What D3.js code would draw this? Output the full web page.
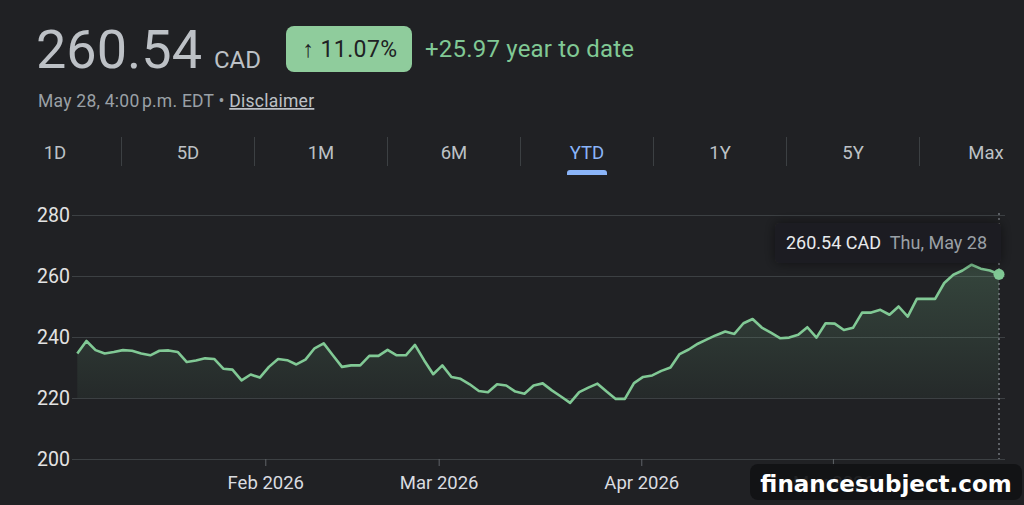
<!DOCTYPE html>
<html>
<head>
<meta charset="utf-8">
<script src="https://cdn.jsdelivr.net/npm/d3@7"></script>
<style>
  html, body { margin: 0; padding: 0; background: #202124; }
  svg { display: block; }
</style>
</head>
<body>
<svg id="chart" width="1024" height="505"></svg>
<script>
// daily closes, Jan 2 - May 28 2026 (TSX trading days)
var closes = [
  234.6, 238.7, 235.7, 234.6, 235.1, 235.7, 235.5, 234.6, 234.0, 235.5, 235.6, 235.1, 231.8, 232.3, 233.0, 232.8, 229.6,
  229.3, 225.8, 227.7, 226.7, 230.2, 232.8, 232.4, 231.0, 232.6, 236.3, 237.9, 234.0, 230.2, 230.7, 230.7, 233.8, 233.8, 235.8,
  234.0, 234.0, 237.4, 232.4, 227.8, 230.7, 226.9, 226.3, 224.5, 222.3, 221.9, 224.5, 224.1, 222.1, 221.4, 224.1, 224.8,
  222.5, 220.5, 218.4, 221.9, 223.4, 224.7, 222.1, 219.7, 219.7, 224.9, 226.9, 227.4, 228.9, 230.0, 234.4, 235.9, 237.8,
  239.2, 240.6, 241.8, 241.0, 244.5, 245.9, 243.1, 241.4, 239.6, 239.8, 240.7, 243.2, 239.8, 244.5, 244.4, 242.3, 243.0,
  248.0, 248.0, 248.9, 247.3, 250.0, 246.7, 252.5, 252.5, 252.5, 257.7, 260.4, 261.8, 263.7, 262.4, 261.8, 260.54
]
var yTicks = [200, 220, 240, 260, 280]
var monthLabels = ["Feb 2026", "Mar 2026", "Apr 2026", "May 2026"]
var monthIndex = [20.6, 39.6, 61.8, 82.8]   // where each month starts, in trading-day index
var tabLabels = ["1D", "5D", "1M", "6M", "YTD", "1Y", "5Y", "Max"]
var activeTab = "YTD"

var lastPrice = "260.54"
var changePct = "11.07%"
var changeAbs = "+25.97"

var green = "#81c995"
var font = "Roboto, 'Noto Sans', sans-serif"

var svg = d3.select("#chart")

// header
svg.append("text").attr("x", 36).attr("y", 68).attr("fill", "#bdc1c6")
  .attr("font-family", font).attr("font-size", 54).text(lastPrice)
svg.append("text").attr("x", 214).attr("y", 68).attr("fill", "#bdc1c6")
  .attr("font-family", font).attr("font-size", 24).text("CAD")

svg.append("rect").attr("x", 286).attr("y", 26).attr("width", 126).attr("height", 46)
  .attr("rx", 8).attr("fill", "#8fcc9c")
svg.append("text").attr("x", 350).attr("y", 57).attr("text-anchor", "middle")
  .attr("fill", "#202124").attr("font-family", font).attr("font-size", 23).attr("letter-spacing", 0.4)
  .text("\u2191 " + changePct)

svg.append("text").attr("x", 425).attr("y", 57).attr("fill", green)
  .attr("font-family", font).attr("font-size", 24).attr("letter-spacing", 0.2)
  .text(changeAbs + " year to date")

var sub = svg.append("text").attr("x", 38).attr("y", 107).attr("fill", "#9aa0a6")
  .attr("font-family", font).attr("font-size", 17.5).attr("letter-spacing", 0.25)
sub.append("tspan").text("May 28, 4:00\u202fp.m. EDT \u2022 ")
sub.append("tspan").attr("fill", "#bdc1c6").attr("text-decoration", "underline").text("Disclaimer")

// range tabs
var tabX = d3.scalePoint().domain(tabLabels).range([55, 986])
var step = tabX.step()
svg.selectAll(".sep").data(tabLabels.slice(1)).enter().append("line")
  .attr("x1", function(d) { return tabX(d) - step / 2 }).attr("x2", function(d) { return tabX(d) - step / 2 })
  .attr("y1", 137).attr("y2", 166).attr("stroke", "#3c4043").attr("stroke-width", 1)
svg.selectAll(".tab").data(tabLabels).enter().append("text")
  .attr("x", function(d) { return tabX(d) }).attr("y", 159).attr("text-anchor", "middle")
  .attr("font-family", font).attr("font-size", 18.5)
  .attr("fill", function(d) { return d == activeTab ? "#8ab4f8" : "#bdc1c6" })
  .text(function(d) { return d })
svg.append("path")
  .attr("d", "M" + (tabX(activeTab) - 20) + ",175 v-2 a3,3 0 0 1 3,-3 h34 a3,3 0 0 1 3,3 v2 z")
  .attr("fill", "#8ab4f8")

// chart
var x = d3.scaleLinear().domain([0, closes.length - 1]).range([77.3, 999])
var y = d3.scaleLinear().domain([200, 280]).range([459, 215])

var gy = svg.append("g").attr("transform", "translate(1005,0)")
gy.call(d3.axisRight(y).tickValues(yTicks).tickSize(-933).tickFormat(""))
gy.select(".domain").remove()
gy.selectAll(".tick line").attr("stroke", "#3c4043")

svg.selectAll(".ylab").data(yTicks).enter().append("text")
  .attr("x", 37).attr("y", function(d) { return y(d) }).attr("dy", "0.36em")
  .attr("font-family", font).attr("font-size", 19.5).attr("fill", "#e3e3e3")
  .text(function(d) { return d })

var gx = svg.append("g").attr("transform", "translate(0,459)")
  .call(d3.axisBottom(x).tickValues(monthIndex).tickSize(7).tickPadding(10)
    .tickFormat(function(d, i) { return monthLabels[i] }))
gx.select(".domain").remove()
gx.selectAll(".tick line").attr("stroke", "#5f6368")
gx.selectAll(".tick text").attr("font-family", font).attr("font-size", 18.5).attr("fill", "#dadce0")

var defs = svg.append("defs")
var grad = defs.append("linearGradient").attr("id", "fade")
  .attr("gradientUnits", "userSpaceOnUse").attr("x1", 0).attr("x2", 0).attr("y1", 262).attr("y2", 400)
grad.append("stop").attr("offset", "0%").attr("stop-color", green).attr("stop-opacity", 0.22)
grad.append("stop").attr("offset", "100%").attr("stop-color", green).attr("stop-opacity", 0.05)

var area = d3.area().x(function(d, i) { return x(i) }).y0(y(220)).y1(function(d) { return y(d) })
svg.append("path").datum(closes).attr("d", area).attr("fill", "url(#fade)")

var line = d3.line().x(function(d, i) { return x(i) }).y(function(d) { return y(d) })
svg.append("path").datum(closes).attr("d", line).attr("fill", "none")
  .attr("stroke", green).attr("stroke-width", 2.6).attr("stroke-linejoin", "round")

var lastI = closes.length - 1
svg.append("line").attr("x1", x(lastI)).attr("x2", x(lastI)).attr("y1", 213).attr("y2", 459)
  .attr("stroke", "#9aa0a6").attr("stroke-width", 1).attr("stroke-dasharray", "2,3")
svg.append("circle").attr("cx", x(lastI)).attr("cy", y(closes[lastI])).attr("r", 5.5).attr("fill", green)

// tooltip
var shadow = defs.append("filter").attr("id", "shadow").attr("x", "-20%").attr("y", "-60%")
  .attr("width", "140%").attr("height", "220%")
shadow.append("feDropShadow").attr("dx", 0).attr("dy", 0).attr("stdDeviation", 6)
  .attr("flood-color", "#000").attr("flood-opacity", 0.5)
svg.append("rect").attr("x", 775).attr("y", 223).attr("width", 226).attr("height", 40)
  .attr("rx", 4).attr("fill", "#1e1f22").attr("filter", "url(#shadow)")
var tip = svg.append("text").attr("x", 786).attr("y", 249).attr("font-family", font).attr("font-size", 18)
tip.append("tspan").attr("fill", "#e8eaed").text(closes[lastI].toFixed(2) + " CAD")
tip.append("tspan").attr("dx", 9).attr("fill", "#9aa0a6").text("Thu, May 28")

// watermark
svg.append("rect").attr("x", 750).attr("y", 464).attr("width", 272).attr("height", 36)
  .attr("rx", 8).attr("fill", "#111214").attr("fill-opacity", 0.93)
svg.append("text").attr("x", 886).attr("y", 492).attr("text-anchor", "middle")
  .attr("font-family", "'DejaVu Sans', sans-serif").attr("font-weight", "bold")
  .attr("font-size", 23).attr("fill", "#ffffff").text("financesubject.com")
</script>
</body>
</html>
